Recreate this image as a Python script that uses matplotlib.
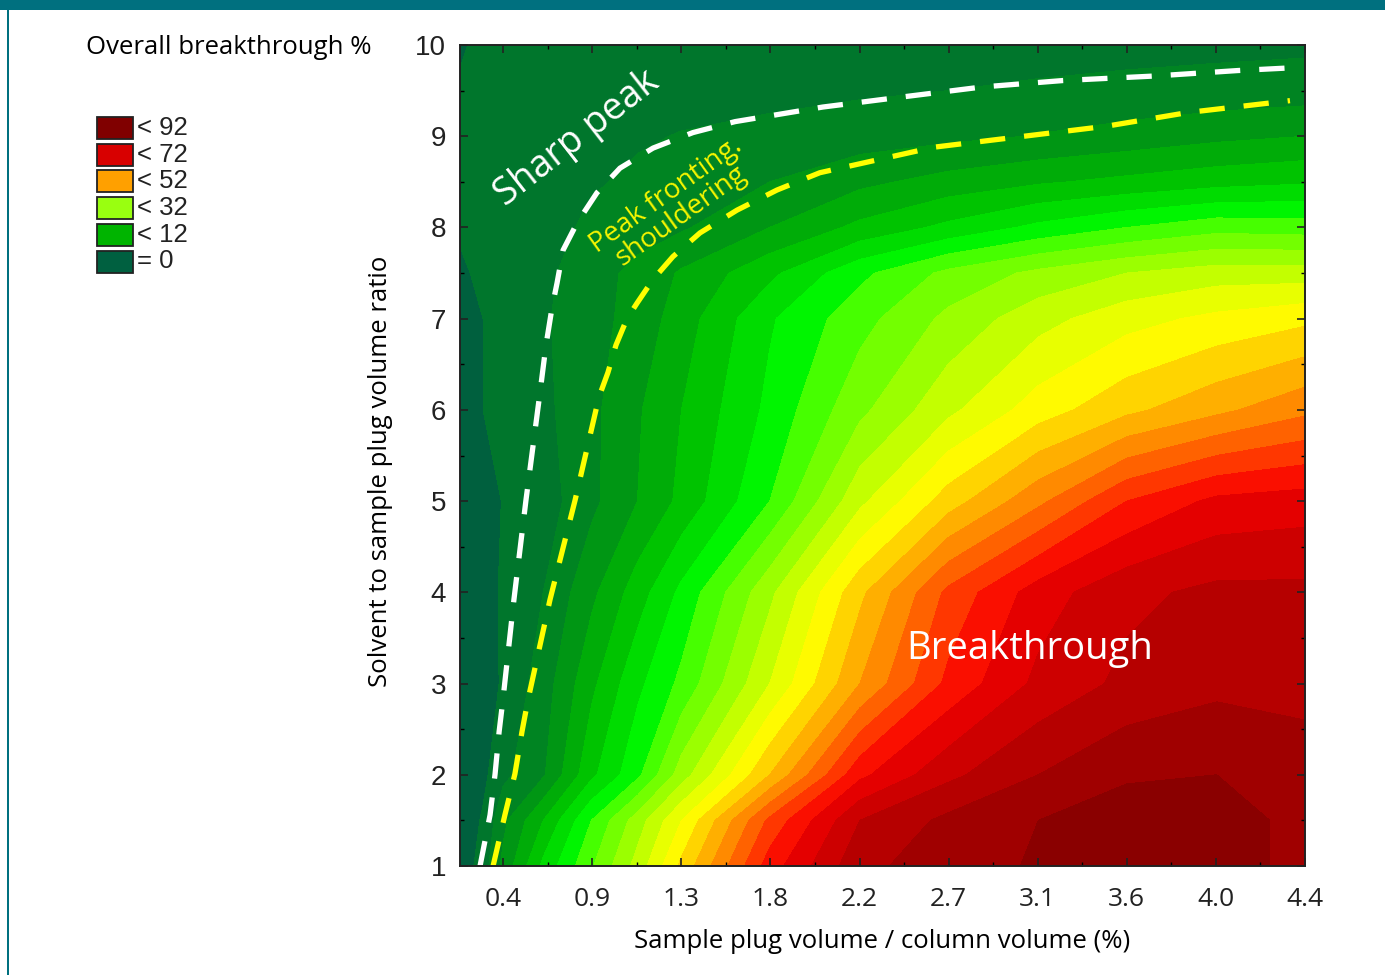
import numpy as np
import matplotlib
matplotlib.use("Agg")
import matplotlib.pyplot as plt
from matplotlib.patches import Rectangle

# sample plug volume / column volume (%) -- grid columns
plug = [0.185, 0.30, 0.40, 0.60, 0.84, 1.07, 1.29, 1.73, 2.18, 2.62, 3.07, 3.51, 3.96, 4.40]
# solvent to sample plug volume ratio -- grid rows
ratio = [1, 1.5, 2, 3, 4, 5, 6, 7, 7.5, 8, 8.5, 9, 9.5, 10]
# overall breakthrough %, one row per ratio value
bt = [
    [1.0, 6.0, 13.0, 25.0, 35.5, 45.5, 57.0, 78.0, 91.0, 94.0, 96.5, 98.0, 97.5, 95.0],
    [1.0, 4.5, 11.0, 20.0, 32.0, 42.0, 52.0, 73.0, 88.0, 93.0, 96.0, 98.0, 97.5, 95.0],
    [0.8, 3.0, 7.0, 11.5, 23.0, 31.0, 42.0, 60.0, 79.0, 87.0, 92.0, 95.5, 96.0, 93.5],
    [0.5, 2.0, 4.5, 10.0, 19.0, 27.0, 33.0, 48.0, 64.0, 77.0, 85.0, 89.0, 91.0, 91.0],
    [0.5, 2.5, 4.5, 8.0, 15.0, 22.0, 29.0, 43.0, 59.0, 73.0, 82.0, 87.0, 89.0, 89.0],
    [0.5, 2.0, 4.2, 6.0, 11.0, 16.0, 21.0, 32.0, 47.0, 58.0, 67.0, 76.0, 81.0, 82.0],
    [1.5, 4.0, 5.0, 7.0, 11.0, 15.5, 20.0, 29.0, 39.0, 47.0, 54.0, 59.0, 63.0, 67.0],
    [2.0, 4.0, 5.5, 7.5, 10.5, 13.5, 18.0, 27.5, 34.5, 41.0, 46.5, 50.5, 53.0, 55.0],
    [3.6, 4.5, 5.0, 7.0, 10.5, 13.0, 16.5, 23.0, 31.0, 37.0, 41.0, 44.0, 46.0, 46.0],
    [4.3, 4.8, 5.0, 6.0, 9.0, 10.5, 11.5, 16.0, 21.0, 25.0, 29.0, 32.0, 34.5, 34.0],
    [4.5, 5.0, 5.2, 5.8, 7.5, 8.8, 9.8, 12.0, 15.0, 17.5, 19.5, 21.0, 22.5, 23.5],
    [4.5, 5.0, 5.0, 5.5, 6.5, 7.5, 8.2, 9.0, 10.0, 11.0, 12.2, 13.5, 15.0, 16.0],
    [4.5, 5.0, 4.8, 5.0, 5.5, 6.0, 6.5, 7.0, 7.5, 8.0, 8.5, 9.0, 9.5, 10.0],
    [3.5, 5.0, 4.5, 5.0, 5.2, 5.5, 5.7, 6.0, 6.2, 6.4, 6.6, 6.8, 7.0, 7.2],
]

# hand-drawn region boundaries
sharp_x = [0.285, 0.335, 0.360, 0.380, 0.399, 0.454, 0.514, 0.584, 0.614, 0.644, 0.669,
           0.699, 0.769, 0.868, 0.983, 1.148, 1.347, 1.557, 1.995, 2.39, 2.79, 3.19,
           3.65, 4.065, 4.335]
sharp_y = [1.00, 1.56, 2.01, 2.47, 2.82, 3.92, 5.01, 6.19, 6.71, 7.12, 7.39,
           7.75, 8.05, 8.38, 8.65, 8.87, 9.04, 9.16, 9.32, 9.43, 9.54, 9.61,
           9.66, 9.72, 9.75]
front_x = [0.350, 0.409, 0.459, 0.494, 0.524, 0.634, 0.759, 0.878, 0.923, 0.963, 1.018,
           1.068, 1.148, 1.247, 1.382, 1.567, 1.766, 1.98, 2.55, 3.41, 3.816, 4.325]
front_y = [1.00, 1.56, 2.01, 2.47, 2.82, 3.92, 5.01, 6.14, 6.41, 6.71, 7.00,
           7.17, 7.43, 7.68, 7.94, 8.19, 8.41, 8.60, 8.88, 9.11, 9.26, 9.39]

xtick_labels = ["0.4", "0.9", "1.3", "1.8", "2.2", "2.7", "3.1", "3.6", "4.0", "4.4"]
legend_labels = ["< 92", "< 72", "< 52", "< 32", "< 12", "= 0"]
legend_colors = ["#800000", "#d80000", "#ffa000", "#99ff10", "#00b400", "#006040"]

# one colour per 4 % band
band_colors = [
    (0, 96, 62), (0, 118, 44), (0, 132, 34), (0, 150, 20), (0, 172, 8),
    (0, 195, 0), (0, 220, 0), (0, 245, 0), (70, 255, 0), (115, 255, 0),
    (155, 255, 0), (195, 255, 0), (232, 255, 0), (255, 250, 0), (255, 212, 0),
    (255, 175, 0), (255, 138, 0), (255, 98, 0), (255, 55, 0), (250, 15, 0),
    (228, 0, 0), (205, 0, 0), (182, 0, 0), (160, 0, 0), (138, 0, 0),
]
band_colors = [(r / 255, g / 255, b / 255) for r, g, b in band_colors]
levels = np.arange(0, 101, 4)

plt.rcParams['font.family'] = ['Open Sans', 'DejaVu Sans']
W, H = 1385, 975
fig = plt.figure(figsize=(W / 100, H / 100), dpi=100)
ax = fig.add_axes([460 / W, 1 - 866 / H, 845 / W, 821 / H])

X, Y = np.meshgrid(plug, ratio)
Z = np.array(bt)
ax.contourf(X, Y, Z, levels=levels, colors=band_colors)

ax.plot(sharp_x, sharp_y, color="white", lw=3.8, linestyle=(0, (4.8, 3.6)),
        solid_capstyle="butt")
ax.plot(front_x, front_y, color="#ffff00", lw=3.8, linestyle=(0, (4.8, 3.6)),
        solid_capstyle="butt")

ax.set_xlim(0.185, 4.4)
ax.set_ylim(1, 10)
xt = np.linspace(0.4, 4.4, 10)
ax.set_xticks(xt)
ax.set_xticklabels(xtick_labels)
ax.set_xticks(xt[:-1] + (xt[1] - xt[0]) / 2, minor=True)
ax.set_yticks(range(1, 11))
ax.set_yticks(np.arange(1.5, 10, 1), minor=True)
ax.tick_params(which="both", direction="in", top=True, right=True, color="black")
ax.tick_params(which="major", length=6, width=1.2)
ax.tick_params(which="minor", length=3, width=1)
ax.tick_params(axis="x", labelsize=19, pad=15, colors="#222222")
ax.tick_params(axis="y", labelsize=20, pad=10, colors="#222222")
for lab in ax.get_yticklabels():
    lab.set_family("Liberation Sans")
for sp in ax.spines.values():
    sp.set_linewidth(1.4)
    sp.set_color("#222222")

ax.set_xlabel("Sample plug volume / column volume (%)", fontsize=18.5, labelpad=12)
ax.set_ylabel("Solvent to sample plug volume ratio", fontsize=18.5)
ax.yaxis.set_label_coords(-0.079, 0.481)

ax.text(0.77, 8.98, "Sharp peak", color="white", fontsize=27, rotation=38,
        ha="center", va="center", rotation_mode="anchor")
ax.text(1.25, 8.24, "Peak fronting.\nshouldering", color="#f5f500", fontsize=20,
        rotation=35.5, ha="center", va="center", rotation_mode="anchor",
        linespacing=0.85)
ax.text(2.41, 3.38, "Breakthrough", color="white", fontsize=27.5, ha="left", va="center")

# legend block
fig.text(86 / W, 1 - 47 / H, "Overall breakthrough %", fontsize=18.5,
         ha="left", va="center")
for i, (lab, col) in enumerate(zip(legend_labels, legend_colors)):
    top = 117 + i * 26.7
    fig.add_artist(Rectangle((97 / W, 1 - (top + 22) / H), 36 / W, 22 / H,
                             transform=fig.transFigure, facecolor=col,
                             edgecolor="#222222", lw=1.3))
    fig.text(137 / W, 1 - (top + 11) / H, lab, fontsize=18.5, family="Liberation Sans",
             ha="left", va="center", color="#222222")

# page frame
teal = "#00707f"
fig.add_artist(Rectangle((0, 1 - 10 / H), 1, 10 / H, transform=fig.transFigure,
                         facecolor=teal, edgecolor="none"))
fig.add_artist(Rectangle((7 / W, 0), 2.2 / W, 1, transform=fig.transFigure,
                         facecolor=teal, edgecolor="none"))

fig.savefig("out.png", dpi=100)
